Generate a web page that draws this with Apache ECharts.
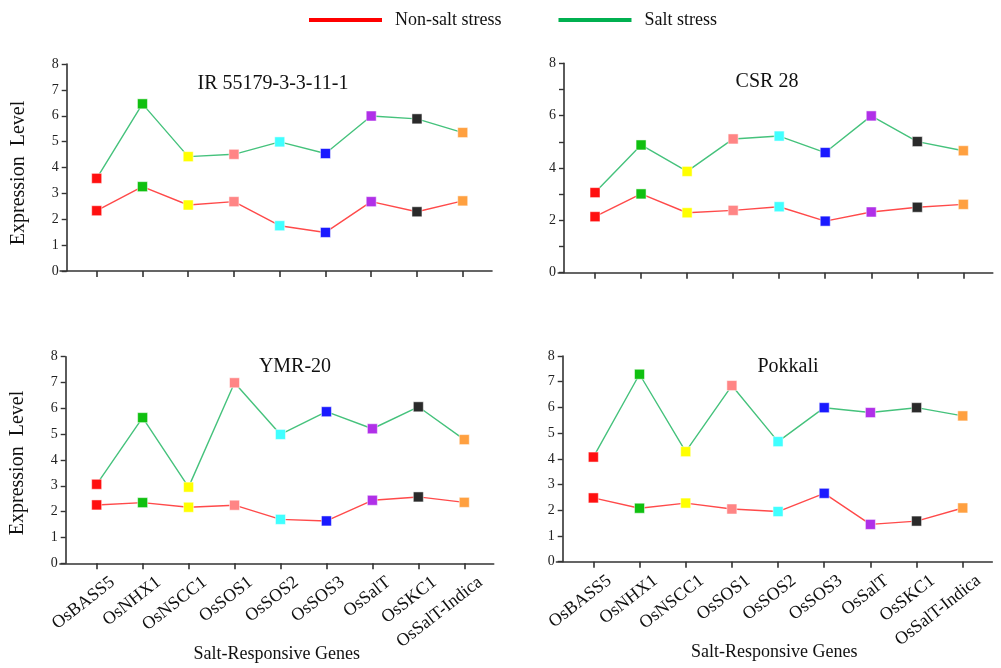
<!DOCTYPE html>
<html>
<head>
<meta charset="utf-8">
<script src="https://cdn.jsdelivr.net/npm/echarts@6/dist/echarts.min.js"></script>
<style>html,body{margin:0;padding:0;background:#fff;}#c{width:1001px;height:668px;}</style>
</head>
<body>
<div id="c"></div>
<script>
var genes = ['OsBASS5','OsNHX1','OsNSCC1','OsSOS1','OsSOS2','OsSOS3','OsSalT','OsSKC1','OsSalT-Indica'];
var markerColors = ['#ff1010','#10c010','#ffff00','#ff8585','#40ffff','#1a1aff','#b030e8','#2a2a2a','#ffa040'];
var panelTitles = ['IR 55179-3-3-11-1','CSR 28','YMR-20','Pokkali'];
var seriesNames = ['Non-salt stress','Salt stress'];
var yTicks = [0,1,2,3,4,5,6,7,8];

var irNonSalt  = [2.33,3.26,2.55,2.68,1.75,1.49,2.68,2.29,2.71];
var irSalt     = [3.58,6.46,4.42,4.51,4.99,4.54,5.99,5.88,5.35];
var csrNonSalt = [2.14,3.01,2.29,2.38,2.52,1.97,2.32,2.50,2.61];
var csrSalt    = [3.06,4.88,3.87,5.11,5.22,4.59,5.99,5.01,4.66];
var ymrNonSalt = [2.26,2.35,2.17,2.25,1.70,1.64,2.44,2.57,2.36];
var ymrSalt    = [3.06,5.64,2.95,6.99,4.99,5.87,5.21,6.06,4.79];
var pokNonSalt = [2.48,2.08,2.28,2.05,1.95,2.66,1.45,1.58,2.09];
var pokSalt    = [4.07,7.29,4.28,6.85,4.67,5.99,5.80,5.99,5.67];

var panelData = [[irNonSalt, irSalt],[csrNonSalt, csrSalt],[ymrNonSalt, ymrSalt],[pokNonSalt, pokSalt]];

var FONT = 'Liberation Serif';
var XMIN = -0.8, XMAX = 8.64;
var grids = [
  {left:60.1, top:64, width:431.9, height:207},
  {left:558.2, top:63.3, width:434.6, height:209.4},
  {left:59.9, top:356.7, width:433.8, height:206.6},
  {left:556.4, top:356, width:435.9, height:205.7}
];
var yOffsets = [-6.6,-5.8,-5.8,-6.3];
var titlePos = [[273,73.5],[767,72],[295,357],[788,356.5]];
var yNamePad = [[0,11,0,0],[0,0,0,0],[0,6,0,0],[0,0,0,0]];
var lineColors = ['#ff4a4a','#45c27c'];
var legendColors = ['#ff0000','#00b050'];
var LABEL_SHIFT = 16; // px to the right of tick

var xAxes = [], yAxes = [], series = [], titles = [];
for (var p = 0; p < 4; p++) {
  var bottomRow = p >= 2;
  xAxes.push({
    type:'value', gridIndex:p, min:XMIN, max:XMAX, position:'bottom',
    axisLine:{show:true, onZero:false, lineStyle:{color:'#333', width:1.6}},
    axisTick:{show:true, customValues:yTicks, length:6, lineStyle:{color:'#333', width:1.6}},
    axisLabel:{show:false},
    splitLine:{show:false},
    name: bottomRow ? 'Salt-Responsive Genes' : '',
    nameLocation:'middle', nameGap:82,
    nameTextStyle:{fontFamily:FONT, fontSize:18, color:'#111'}
  });
  var hideOdd = (p === 1);
  yAxes.push({
    type:'value', gridIndex:p, min:0, max:8, interval:1, offset:yOffsets[p],
    axisLine:{show:true, onZero:false, lineStyle:{color:'#333', width:1.6}},
    axisTick:{show:true, length:5, lineStyle:{color:'#333', width:1.4}},
    axisLabel:{fontFamily:FONT, fontSize:14, color:'#222', margin:8,
      formatter: (function(h){ return function(v){ return (h && v % 2 !== 0) ? '' : String(v); }; })(hideOdd)},
    splitLine:{show:false},
    name: (p % 2 === 0) ? 'Expression  Level' : '',
    nameLocation:'middle', nameGap:38, nameRotate:90,
    nameTextStyle:{fontFamily:FONT, fontSize:20, color:'#111', padding:yNamePad[p]}
  });
  titles.push({
    text:panelTitles[p], left:titlePos[p][0], top:titlePos[p][1], textAlign:'center', padding:0,
    textStyle:{fontFamily:FONT, fontSize:20, fontWeight:'normal', color:'#111'}
  });
  for (var s = 0; s < 2; s++) {
    var vals = panelData[p][s];
    var pts = vals.map(function(v, i){
      return {value:[i, v], itemStyle:{color:markerColors[i], borderColor:'rgba(255,255,255,0.5)', borderWidth:1}};
    });
    series.push({
      type:'line', name:seriesNames[s], xAxisIndex:p, yAxisIndex:p,
      data:pts, symbol:'rect', symbolSize:10, showSymbol:true,
      color:legendColors[s],
      lineStyle:{color:lineColors[s], width:1.4},
      z: 3 + s,
      animation:false
    });
  }
}
// label-only axes for bottom panels (shifted so rotated labels sit like the reference)
[2,3].forEach(function(p){
  var unit = grids[p].width / (XMAX - XMIN);
  var sh = LABEL_SHIFT / unit;
  xAxes.push({
    type:'value', gridIndex:p, min:XMIN - sh, max:XMAX - sh, position:'bottom', offset:0,
    axisLine:{show:false, onZero:false}, axisTick:{show:false}, splitLine:{show:false},
    axisLabel:{show:true, customValues:yTicks, rotate:38, fontFamily:FONT, fontSize:18, color:'#111', margin:17,
      formatter:function(v){ return genes[Math.round(v)] || ''; }}
  });
});

var chart = echarts.init(document.getElementById('c'), null, {renderer:'canvas'});
chart.setOption({
  backgroundColor:'#fff',
  animation:false,
  title:titles,
  legend:{
    left:309, top:11, padding:0, itemWidth:73, itemHeight:4, itemGap:57,
    icon:'rect',
    data:[
      {name:'Non-salt stress', itemStyle:{color:legendColors[0]}},
      {name:'Salt stress', itemStyle:{color:legendColors[1]}}
    ],
    textStyle:{fontFamily:FONT, fontSize:18, color:'#111', padding:[0,0,0,8]},
    selectedMode:false
  },
  grid:grids,
  xAxis:xAxes,
  yAxis:yAxes,
  series:series
});
</script>
</body>
</html>
